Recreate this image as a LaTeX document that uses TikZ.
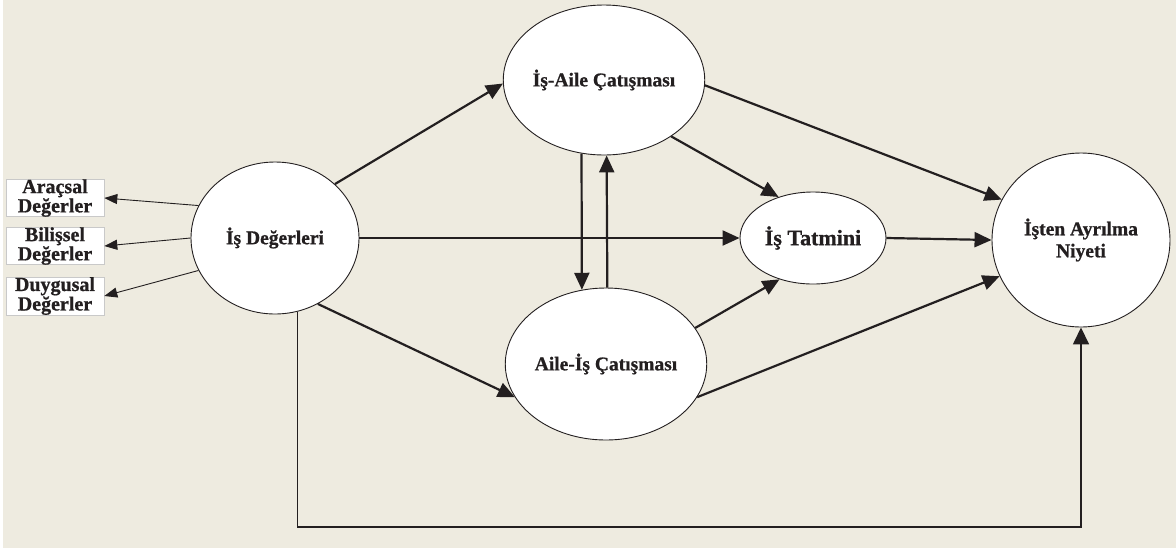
\documentclass[tikz,border=0pt]{standalone}
\usepackage{fontspec}
\setmainfont{Liberation Serif}
\newfontfamily\labelfont{Liberation Serif Bold}[FakeBold=0.8]
\usetikzlibrary{shapes.geometric,arrows.meta}
\definecolor{paper}{HTML}{EEEBE0}
\definecolor{ink}{HTML}{231F20}
\definecolor{boxline}{HTML}{C9C9C9}
\begin{document}
\begin{tikzpicture}[x=1pt,y=-1pt,
  construct/.style={ellipse,draw=ink,line width=0.9pt,fill=white,inner sep=0pt,
    text=ink,font=\fontsize{19.5}{22}\labelfont,align=center},
  valuebox/.style={rectangle,draw=boxline,line width=0.6pt,fill=white,inner sep=0pt,
    minimum width=98pt,minimum height=34pt,text=ink,
    font=\fontsize{20}{17}\labelfont,align=center},
  mainarrow/.style={draw=ink,line width=2.2pt,-{Triangle[length=17pt,width=15pt]}},
  thinarrow/.style={draw=ink,line width=0.9pt,-{Triangle[length=13pt,width=10pt]}},
  looparrow/.style={draw=ink,line width=1.6pt,-{Triangle[length=17pt,width=16pt]}}]
  % canvas
  \useasboundingbox (0,0) rectangle (1176,550);
  \fill[white] (0,0) rectangle (1176,550);
  \fill[paper] (3,0) rectangle (1176,548);

  % constructs
  \node[construct,minimum width=168pt,minimum height=152pt] (D) at (275,238) {İş Değerleri};
  \node[construct,minimum width=184pt,minimum height=150pt] (A) at (604,80) {İş-Aile Çatışması};
  \node[construct,minimum width=186pt,minimum height=152pt] (B) at (606,364) {Aile-İş Çatışması};
  \node[construct,minimum width=146pt,minimum height=92pt,
        font=\fontsize{22}{24}\labelfont] (T) at (813,238) {İş Tatmini};
  \node[construct,minimum width=178pt,minimum height=174pt] (N) at (1081,240) {İşten Ayrılma\\Niyeti};

  % value dimensions
  \node[valuebox] (V1) at (55,198) {Araçsal\\Değerler};
  \node[valuebox] (V2) at (55,246) {Bilişsel\\Değerler};
  \node[valuebox] (V3) at (55,296) {Duygusal\\Değerler};

  \draw[thinarrow] (D.157) -- (V1.east);
  \draw[thinarrow] (D.180) -- (V2.east);
  \draw[thinarrow] (D.203) -- (V3.east);

  % structural paths
  \draw[mainarrow] (D.42) -- (A.182);
  \draw[mainarrow] (D.0) -- (T.180);
  \draw[mainarrow] (D.-57) -- (B.200);
  \draw[mainarrow] (A.-107) -- (B.108);
  \draw[mainarrow] (B.89) -- (A.-88);
  \draw[mainarrow] (A.-40) -- (T.130);
  \draw[mainarrow] (B.22) -- (T.231);
  \draw[mainarrow] (A.-3) -- (N.153);
  \draw[mainarrow] (T.0) -- (N.180);
  \draw[mainarrow] (B.-20) -- (N.204);

  % direct path along the bottom
  \coordinate (loop) at (1081,527);
  \draw[looparrow] (D.-73) |- (loop) -- (N.south);
\end{tikzpicture}
\end{document}
